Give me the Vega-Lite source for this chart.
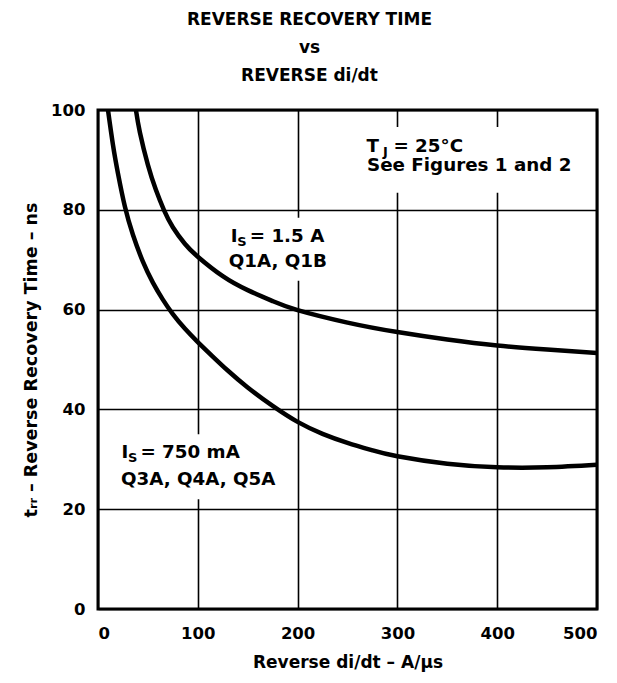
{
  "$schema": "https://vega.github.io/schema/vega-lite/v6.json",
  "width": 499,
  "height": 499,
  "autosize": {"type": "none"},
  "padding": {"left": 98, "top": 110, "right": 20, "bottom": 74},
  "background": "white",
  "title": {
    "text": ["REVERSE RECOVERY TIME", "vs", "REVERSE di/dt"],
    "font": "DejaVu Sans",
    "fontWeight": "bold",
    "fontSize": 17,
    "lineHeight": 28,
    "color": "black",
    "anchor": "middle",
    "frame": "group",
    "dx": -38,
    "offset": 17
  },
  "config": {
    "view": {"stroke": "black", "strokeWidth": 3},
    "axis": {
      "labelFont": "DejaVu Sans",
      "labelFontWeight": "bold",
      "labelFontSize": 16.5,
      "labelColor": "black",
      "titleFont": "DejaVu Sans",
      "titleFontWeight": "bold",
      "titleFontSize": 17,
      "titleColor": "black",
      "domain": false,
      "ticks": false,
      "grid": true,
      "gridColor": "black",
      "gridWidth": 1.6,
      "gridOpacity": 1
    }
  },
  "datasets": {
    "curves": [
      {"series": "IS = 1.5 A", "didt": 38, "trr": 100},
      {"series": "IS = 1.5 A", "didt": 42, "trr": 95.5},
      {"series": "IS = 1.5 A", "didt": 50, "trr": 89},
      {"series": "IS = 1.5 A", "didt": 58, "trr": 84},
      {"series": "IS = 1.5 A", "didt": 66, "trr": 80},
      {"series": "IS = 1.5 A", "didt": 75, "trr": 76.5},
      {"series": "IS = 1.5 A", "didt": 87, "trr": 73.2},
      {"series": "IS = 1.5 A", "didt": 100, "trr": 70.6},
      {"series": "IS = 1.5 A", "didt": 125, "trr": 66.7},
      {"series": "IS = 1.5 A", "didt": 150, "trr": 63.9},
      {"series": "IS = 1.5 A", "didt": 175, "trr": 61.7},
      {"series": "IS = 1.5 A", "didt": 200, "trr": 59.9},
      {"series": "IS = 1.5 A", "didt": 250, "trr": 57.4},
      {"series": "IS = 1.5 A", "didt": 300, "trr": 55.5},
      {"series": "IS = 1.5 A", "didt": 350, "trr": 54},
      {"series": "IS = 1.5 A", "didt": 400, "trr": 52.8},
      {"series": "IS = 1.5 A", "didt": 450, "trr": 52},
      {"series": "IS = 1.5 A", "didt": 500, "trr": 51.3},
      {"series": "IS = 750 mA", "didt": 10, "trr": 100},
      {"series": "IS = 750 mA", "didt": 15, "trr": 93},
      {"series": "IS = 750 mA", "didt": 20, "trr": 87.3},
      {"series": "IS = 750 mA", "didt": 27, "trr": 80.6},
      {"series": "IS = 750 mA", "didt": 35, "trr": 75},
      {"series": "IS = 750 mA", "didt": 45, "trr": 69.6},
      {"series": "IS = 750 mA", "didt": 55, "trr": 65.4},
      {"series": "IS = 750 mA", "didt": 65, "trr": 62},
      {"series": "IS = 750 mA", "didt": 75, "trr": 59.1},
      {"series": "IS = 750 mA", "didt": 87, "trr": 56.2},
      {"series": "IS = 750 mA", "didt": 100, "trr": 53.5},
      {"series": "IS = 750 mA", "didt": 115, "trr": 50.6},
      {"series": "IS = 750 mA", "didt": 130, "trr": 47.8},
      {"series": "IS = 750 mA", "didt": 150, "trr": 44.4},
      {"series": "IS = 750 mA", "didt": 175, "trr": 40.7},
      {"series": "IS = 750 mA", "didt": 200, "trr": 37.5},
      {"series": "IS = 750 mA", "didt": 225, "trr": 35.1},
      {"series": "IS = 750 mA", "didt": 250, "trr": 33.3},
      {"series": "IS = 750 mA", "didt": 275, "trr": 31.8},
      {"series": "IS = 750 mA", "didt": 300, "trr": 30.6},
      {"series": "IS = 750 mA", "didt": 350, "trr": 29.1},
      {"series": "IS = 750 mA", "didt": 400, "trr": 28.4},
      {"series": "IS = 750 mA", "didt": 450, "trr": 28.4},
      {"series": "IS = 750 mA", "didt": 500, "trr": 28.9}
    ],
    "labelBoxes": [
      {"x1": 130, "x2": 238, "y1": 65.8, "y2": 78.4},
      {"x1": 20, "x2": 192, "y1": 22, "y2": 35},
      {"x1": 266, "x2": 475, "y1": 83.4, "y2": 96.6}
    ],
    "labels": [
      {"x": 133, "y": 73.6, "t": "I"},
      {"x": 152, "y": 73.6, "t": "= 1.5 A"},
      {"x": 131, "y": 68.6, "t": "Q1A, Q1B"},
      {"x": 23.5, "y": 30.3, "t": "I"},
      {"x": 42.5, "y": 30.3, "t": "= 750 mA"},
      {"x": 23, "y": 24.8, "t": "Q3A, Q4A, Q5A"},
      {"x": 269, "y": 91.6, "t": "T"},
      {"x": 296, "y": 91.6, "t": "= 25°C"},
      {"x": 269.5, "y": 87.7, "t": "See Figures 1 and 2"}
    ],
    "subscripts": [
      {"x": 139.5, "y": 73.6, "t": "S"},
      {"x": 30, "y": 30.3, "t": "S"},
      {"x": 285.5, "y": 91.6, "t": "J"}
    ]
  },
  "encoding": {
    "x": {
      "type": "quantitative",
      "scale": {"domain": [0, 500], "nice": false},
      "axis": {
        "title": "Reverse di/dt – A/µs",
        "values": [0, 100, 200, 300, 400, 500],
        "labelPadding": 16,
        "titlePadding": 13
      }
    },
    "y": {
      "type": "quantitative",
      "scale": {"domain": [0, 100], "nice": false},
      "axis": {
        "title": "tᵣᵣ – Reverse Recovery Time – ns",
        "values": [0, 20, 40, 60, 80, 100],
        "labelPadding": 13,
        "titlePadding": 10,
        "titleFontSize": 17.5
      }
    }
  },
  "layer": [
    {
      "data": {"name": "labelBoxes"},
      "mark": {"type": "rect", "fill": "white", "stroke": null},
      "encoding": {
        "x": {"field": "x1", "type": "quantitative"},
        "x2": {"field": "x2"},
        "y": {"field": "y1", "type": "quantitative"},
        "y2": {"field": "y2"}
      }
    },
    {
      "data": {"name": "curves"},
      "mark": {"type": "line", "color": "black", "strokeWidth": 4.5, "interpolate": "natural", "clip": true},
      "encoding": {
        "x": {"field": "didt", "type": "quantitative"},
        "y": {"field": "trr", "type": "quantitative"},
        "detail": {"field": "series"}
      }
    },
    {
      "data": {"name": "labels"},
      "mark": {"type": "text", "align": "left", "baseline": "alphabetic", "font": "DejaVu Sans", "fontWeight": "bold", "fontSize": 18.3, "color": "black"},
      "encoding": {
        "x": {"field": "x", "type": "quantitative"},
        "y": {"field": "y", "type": "quantitative"},
        "text": {"field": "t"}
      }
    },
    {
      "data": {"name": "subscripts"},
      "mark": {"type": "text", "align": "left", "baseline": "alphabetic", "dy": 4, "font": "DejaVu Sans", "fontWeight": "bold", "fontSize": 13, "color": "black"},
      "encoding": {
        "x": {"field": "x", "type": "quantitative"},
        "y": {"field": "y", "type": "quantitative"},
        "text": {"field": "t"}
      }
    }
  ]
}
